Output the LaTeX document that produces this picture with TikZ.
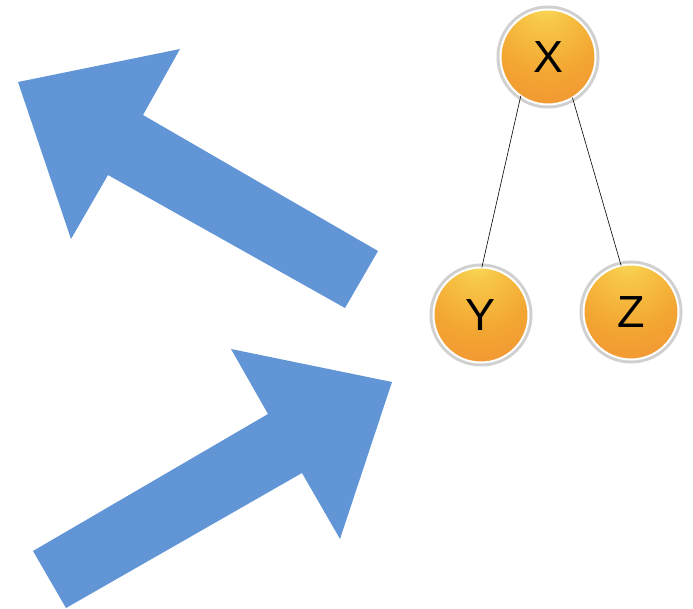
\documentclass[tikz,border=0pt]{standalone}
\usepackage{fontspec}
\setmainfont{Liberation Sans}
\definecolor{arrowblue}{RGB}{98,149,214}
\definecolor{ringgray}{RGB}{208,208,208}
\pgfdeclareradialshading{orangeball}{\pgfpoint{-2bp}{30bp}}{%
  color(0bp)=(rgb,255:red,250;green,222;blue,92);
  color(10bp)=(rgb,255:red,247;green,198;blue,70);
  color(30bp)=(rgb,255:red,243;green,166;blue,50);
  color(55bp)=(rgb,255:red,240;green,140;blue,52);
  color(80bp)=(rgb,255:red,236;green,118;blue,55);
  color(100bp)=(rgb,255:red,236;green,118;blue,55)}
\tikzset{
  treenode/.style={circle, minimum size=95pt, inner sep=0pt, outer sep=0pt,
    shading=orangeball, draw=white, line width=2pt,
    preaction={draw=ringgray, line width=8pt},
    font=\fontsize{45}{45}\selectfont},
  treeedge/.style={draw=black, line width=0.6pt},
  bigarrow/.style={fill=arrowblue, draw=none}
}
\begin{document}
\begin{tikzpicture}[x=1pt, y=-1pt]
\useasboundingbox (0,0) rectangle (693,609);
% tree
\node[treenode] (X) at (548,57) {X};
\node[treenode] (Y) at (481,315) {Y};
\node[treenode] (Z) at (631,312) {Z};
\draw[treeedge] (X.235) -- (Y.89);
\draw[treeedge] (X.301) -- (Z.102);
% block arrow pointing up-left
\fill[bigarrow] (18,82) -- (180,49) -- (143,115) -- (378,251) -- (345,308)
  -- (108,175) -- (71,239) -- cycle;
% block arrow pointing up-right
\fill[bigarrow] (392,382) -- (340,539) -- (302,473) -- (66,608) -- (33,551)
  -- (268,414) -- (231,349) -- cycle;
\end{tikzpicture}
\end{document}
